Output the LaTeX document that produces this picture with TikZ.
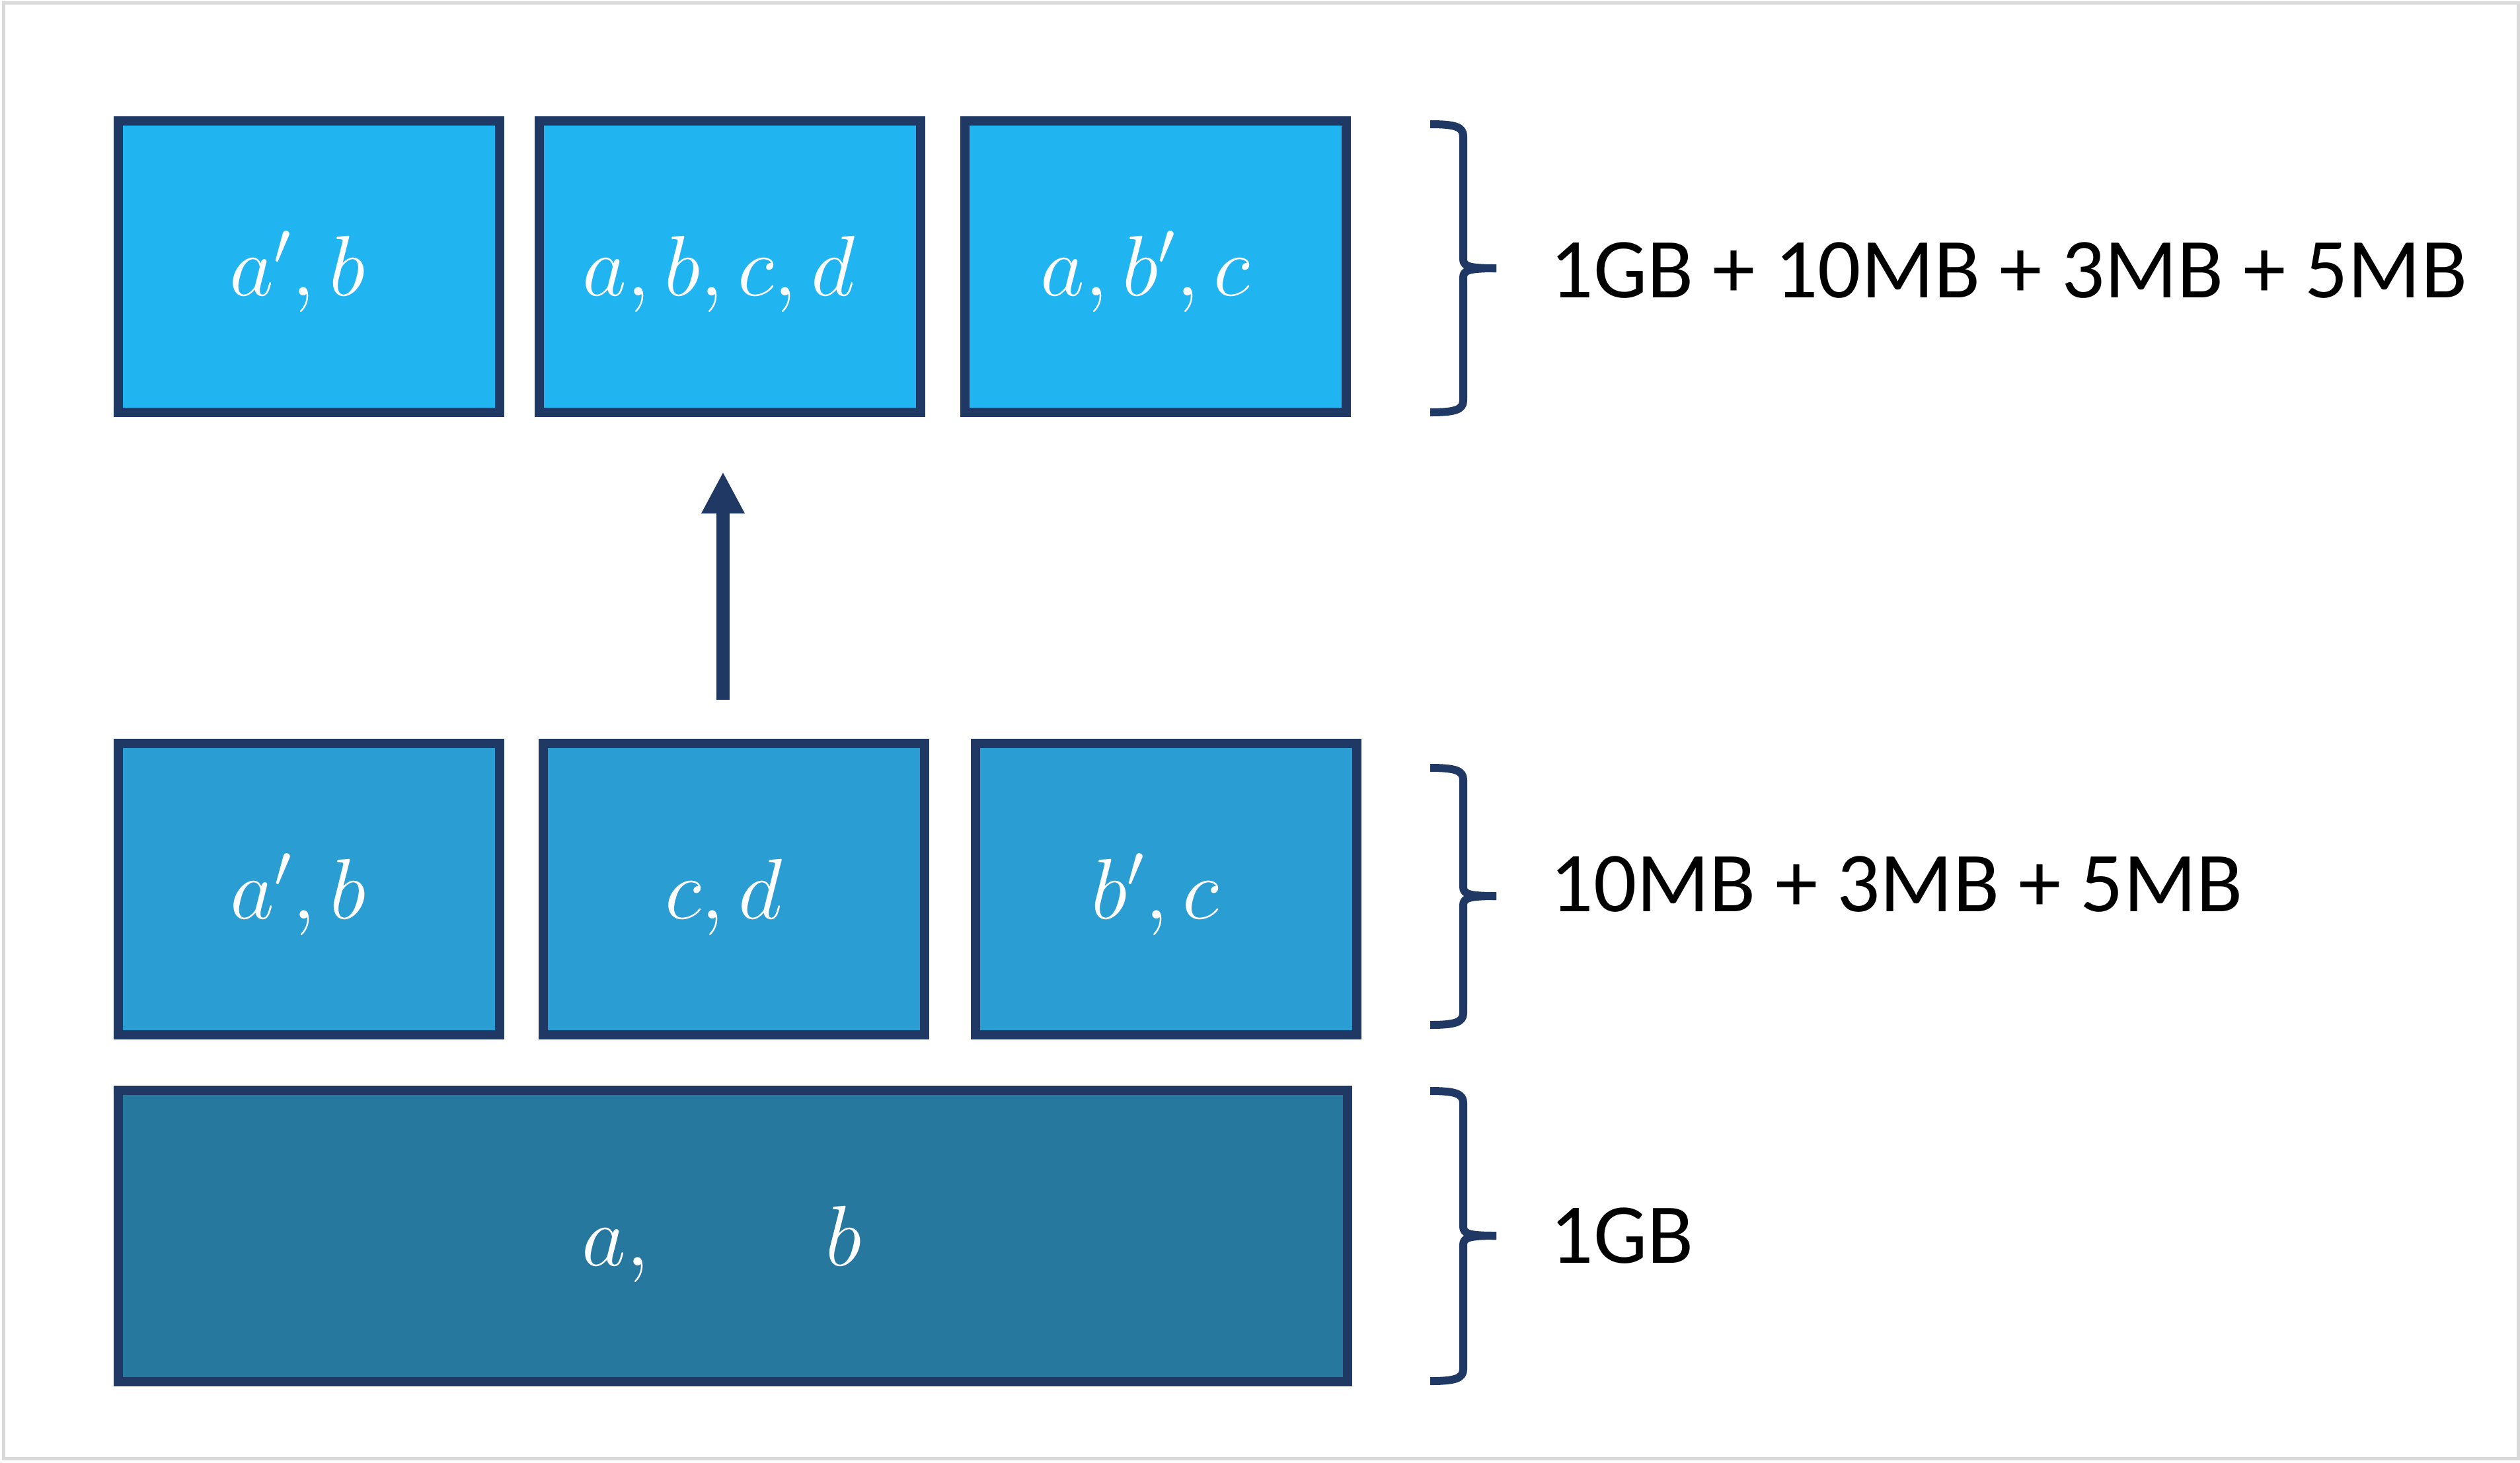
\RequirePackage{fix-cm}
\documentclass[tikz,border=0pt]{standalone}
\usepackage{fontspec}
\setsansfont{Carlito}
\usetikzlibrary{arrows.meta}
\definecolor{navy}{HTML}{1F3864}
\definecolor{topblue}{HTML}{20B4F0}
\definecolor{midblue}{HTML}{2A9DD2}
\definecolor{botblue}{HTML}{27789F}
\definecolor{framegray}{HTML}{D9D9D9}
\newcommand\rbr[3]{%
  \draw[brc] (21.64,{#1}) .. controls (22.02,{#1}) and (22.14,{#1-0.04}) .. (22.14,{#1-0.18})
     -- (22.14,{#2+0.14}) .. controls (22.14,{#2+0.03}) and (22.22,{#2}) .. (22.64,{#2});
  \draw[brc] (22.64,{#2}) .. controls (22.22,{#2}) and (22.14,{#2-0.03}) .. (22.14,{#2-0.14})
     -- (22.14,{#3+0.18}) .. controls (22.14,{#3+0.04}) and (22.02,{#3}) .. (21.64,{#3});
}
\begin{document}
\begin{tikzpicture}[
  blk/.style={draw=navy, line width=0.14cm, minimum width=5.77cm, minimum height=4.41cm, inner sep=0pt, outer sep=0pt},
  mlab/.style={text=white, font=\fontsize{37}{44}\selectfont, anchor=base, inner sep=0pt},
  rlab/.style={text=black, font=\sffamily\fontsize{36.7}{44}\selectfont, anchor=base west, inner sep=0pt},
  brc/.style={draw=navy, line width=0.12cm, line join=round},
  arr/.style={draw=navy, line width=0.2cm, -{Triangle[width=0.61cm,length=0.63cm]}}
]
\useasboundingbox (0,0) rectangle (38.13,-22.13);
\draw[framegray, line width=0.05cm] (0.05,-0.043) rectangle (38.10,-22.07);

% top row
\node[blk, fill=topblue] (t1) at (4.675,-4.035) {};
\node[blk, fill=topblue] (t2) at (11.04,-4.035) {};
\node[blk, fill=topblue] (t3) at (17.48,-4.035) {};
% middle row
\node[blk, fill=midblue] (m1) at (4.675,-13.455) {};
\node[blk, fill=midblue] (m2) at (11.105,-13.455) {};
\node[blk, fill=midblue] (m3) at (17.64,-13.455) {};
% bottom
\node[blk, fill=botblue, minimum width=18.60cm] (b1) at (11.09,-18.705) {};

% labels in boxes
\node[mlab] (tl1) at (4.50,-4.475) {$a',b$};
\node[mlab] (tl2) at (10.88,-4.475) {$a,b,c,d$};
\node[mlab] (tl3) at (17.33,-4.475) {$a,b',c$};
\node[mlab] (ml1) at (4.51,-13.90) {$a',b$};
\node[mlab] (ml2) at (10.95,-13.90) {$c,d$};
\node[mlab] (ml3) at (17.48,-13.90) {$b',c$};
\node[mlab] (bl1) at (10.92,-19.15) {$a,\hspace{2.45cm}b$};

% arrow
\coordinate (as) at (10.94,-10.59);
\coordinate (ae) at (10.94,-7.14);
\draw[arr] (as) -- (ae);

% braces
\rbr{-1.88}{-4.06}{-6.24}
\rbr{-11.62}{-13.56}{-15.51}
\rbr{-16.51}{-18.70}{-20.90}

% right labels
\node[rlab] (l1) at (23.45,-4.50) {1GB + 10MB + 3MB + 5MB};
\node[rlab] (l2) at (23.45,-13.79) {10MB + 3MB + 5MB};
\node[rlab] (l3) at (23.45,-19.11) {1GB};
\end{tikzpicture}
\end{document}
